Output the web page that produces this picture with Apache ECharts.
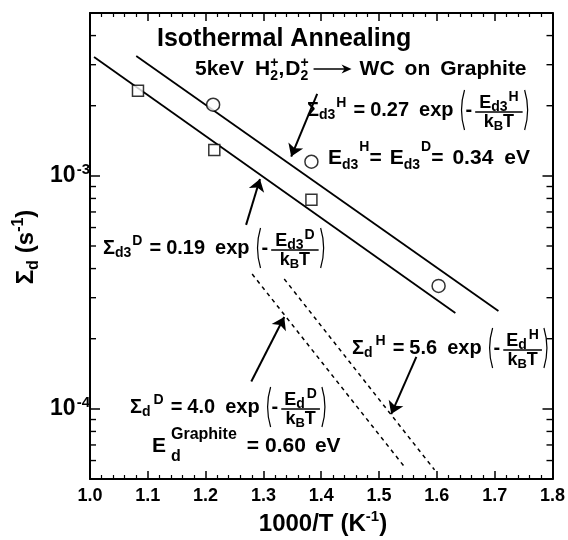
<!DOCTYPE html>
<html><head><meta charset="utf-8">
<script src="https://cdn.jsdelivr.net/npm/echarts@6/dist/echarts.min.js"></script>
<style>html,body{margin:0;padding:0;background:#fff}#c{width:568px;height:540px}</style>
</head><body><div id="c"></div>
<script>
// ---------- data ----------
const xTickLabels = ['1.0','1.1','1.2','1.3','1.4','1.5','1.6','1.7','1.8'];
const xMin = 1.0, xMax = 1.8, xStep = 0.1;
const yMin = 5e-5, yMax = 5e-3;
const yDecadeLabels = {'-4': '-4', '-3': '-3'};
const yMinorTicks = [6e-5,7e-5,8e-5,9e-5,2e-4,3e-4,4e-4,5e-4,6e-4,7e-4,8e-4,9e-4,2e-3,3e-3,4e-3];
const circlesH = [[1.213,2.02e-3],[1.383,1.15e-3],[1.603,3.37e-4]];
const squaresD = [[1.083,2.32e-3],[1.215,1.29e-3],[1.383,7.9e-4]];
const fitH = [[1.080,3.27e-3],[1.7065,2.63e-4]];
const fitD = [[1.007,3.24e-3],[1.632,2.58e-4]];
const dashH = [[1.336,3.61e-4],[1.596,5.47e-5]];
const dashD = [[1.2805,3.79e-4],[1.544,5.64e-5]];
const arrows = [
  [[1.393,2.25e-3],[1.348,1.21e-3]],
  [[1.270,6.16e-4],[1.294,9.7e-4]],
  [[1.279,1.31e-4],[1.336,2.48e-4]],
  [[1.5645,1.67e-4],[1.521,9.5e-5]]
];

// ---------- text layout helpers ----------
const FONT = '"Liberation Sans", Arial, sans-serif';
const mctx = document.createElement('canvas').getContext('2d');
function measure(t, size){ mctx.font = 'bold ' + size + 'px ' + FONT; return mctx.measureText(t).width; }
function txt(t, x, y, size){
  return {type:'text', x:x, y:y, silent:true,
    style:{text:t, fill:'#000', font:'bold ' + size + 'px ' + FONT,
      align:'left', verticalAlign:'middle', textAlign:'left', textVerticalAlign:'middle'}};
}
function layout(tokens, x0, yc, base){
  const els = []; let x = x0;
  for (const tk of tokens){
    if (typeof tk === 'string'){ els.push(txt(tk, x, yc, base)); x += measure(tk, base); }
    else if (tk.gap !== undefined){ x += tk.gap; }
    else if (tk.ss !== undefined){
      const s = tk.size || base; const sm = tk.small || Math.round(s*0.7);
      if (tk.ss){ els.push(txt(tk.ss, x, yc, s)); x += measure(tk.ss, s); }
      x += (tk.pre || 0);
      let w = 0;
      if (tk.sub){ els.push(txt(tk.sub, x, yc + (tk.dy !== undefined ? tk.dy : 5), sm)); w = measure(tk.sub, sm); }
      if (tk.sup){
        const ssz = tk.supSize || sm; const sw = measure(tk.sup, ssz);
        if (tk.stack){ els.push(txt(tk.sup, x, yc - (tk.uy !== undefined ? tk.uy : 7), ssz)); w = Math.max(w, sw); }
        else { const g = tk.sub ? (tk.supGap !== undefined ? tk.supGap : 1) : 0; els.push(txt(tk.sup, x + w + g, yc - (tk.uy !== undefined ? tk.uy : 7), ssz)); w = w + g + sw; }
      }
      x += w;
    }
    else if (tk.paren){
      const h = tk.h || 20; const left = tk.paren === '(';
      const ex = left ? x + 5 : x + 1; const cx = left ? x - 1 : x + 7;
      els.push({type:'bezierCurve', silent:true, shape:{x1:ex, y1:yc-h, x2:ex, y2:yc+h, cpx1:cx, cpy1:yc},
        style:{stroke:'#000', lineWidth:1.2, fill:null}});
      x += 6;
    }
    else if (tk.frac){
      const fs = tk.size || base; const off = tk.off || 2; const pad = tk.pad !== undefined ? tk.pad : 8;
      const a = layout(tk.frac[0], 0, 0, fs), b = layout(tk.frac[1], 0, 0, fs);
      const W = Math.max(a.w, b.w) + pad;
      const ly = yc + off;
      els.push(...layout(tk.frac[0], x + (W - a.w)/2, ly - (tk.nu || 9), fs).els);
      els.push(...layout(tk.frac[1], x + (W - b.w)/2, ly + (tk.de || 10), fs).els);
      els.push({type:'line', silent:true, shape:{x1:x, y1:ly, x2:x+W, y2:ly}, style:{stroke:'#000', lineWidth:1.5}});
      x += W;
    }
    else if (tk.arrow){
      const L = tk.arrow;
      els.push({type:'line', silent:true, shape:{x1:x, y1:yc, x2:x+L-6, y2:yc}, style:{stroke:'#000', lineWidth:1.3}});
      els.push({type:'polygon', silent:true, shape:{points:[[x+L-10,yc-4.5],[x+L,yc],[x+L-10,yc+4.5],[x+L-7,yc]]}, style:{fill:'#000'}});
      x += L;
    }
  }
  return {els:els, w:x - x0};
}

const graphics = [];
function place(tokens, x0, yc, base){ graphics.push(...layout(tokens, x0, yc, base).els); }
function sigma(sub, sup, wide){
  return [{ss:'Σ', sub:sub, sup:sup, dy:5, uy:7, small:14, supGap: wide ? 3 : 1}, {gap:7}, '=', {gap:5}];
}
function expo(num, sub, sup, pad){
  return [num, {gap:10}, 'exp', {gap:6}, {paren:'('}, '-', {gap:3},
    {frac:[[{ss:'E', sub:sub, sup:sup, dy:4, uy:6, small:14, supGap: sub === 'd' ? 2 : 1}],
           [{ss:'k', sub:'B', dy:4, small:13}, 'T']], size:18, pad:pad},
    {gap:1}, {paren:')'}];
}

// title lines
place(['Isothermal Annealing'], 157, 39, 25);
place(['5keV', {gap:11}, {ss:'H', sub:'2', sup:'+', stack:true, dy:7, uy:6, small:14}, ',', {gap:1},
       {ss:'D', sub:'2', sup:'+', stack:true, dy:7, uy:6, small:14}, {gap:5}, {arrow:38}, {gap:8},
       'WC', {gap:10}, 'on', {gap:10}, 'Graphite'], 195, 69, 21);
// formulas
place(sigma('d3','H').concat(expo('0.27','d3','H',8)), 307, 110, 20);
place([{ss:'E', sub:'d3', sup:'H', dy:7, uy:11, small:14}, '=', {gap:8},
       {ss:'E', sub:'d3', sup:'D', dy:7, uy:11, small:14}, '=', {gap:9}, '0.34', {gap:11}, 'eV'], 328, 158, 21);
place(sigma('d3','D').concat(expo('0.19','d3','D',8)), 103, 248, 20);
place(sigma('d','H',true).concat(expo('5.6','d','H',6)), 352, 348, 20);
place(sigma('d','D',true).concat(expo('4.0','d','D',6)), 130, 407, 20);
place([{ss:'E', sub:'d', sup:'Graphite', stack:true, dy:11, uy:11, small:16, pre:5}, {gap:10}, '=', {gap:6}, '0.60', {gap:9}, 'eV'], 152, 446, 21);

// axis names
(function(){
  const tk = ['1000/T', {gap:7}, '(K', {ss:'', sup:'-1', uy:7, small:15}, ')'];
  const w = layout(tk, 0, 0, 24).w;
  place(tk, 323 - w/2, 524, 24);
  const ty = [{ss:'Σ', sub:'d', dy:8, small:16}, {gap:7}, '(s', {ss:'', sup:'-1', uy:7, small:16}, ')'];
  const wy = layout(ty, 0, 0, 24).w;
  graphics.push({type:'group', x:26, y:247, rotation:Math.PI/2, children: layout(ty, -wy/2, 0, 24).els});
})();

// ---------- chart ----------
const chart = echarts.init(document.getElementById('c'), null, {renderer:'canvas'});
const axisLineStyle = {color:'#000', width:2};
function xAxisDef(pos, showLabel){
  return {type:'value', min:xMin, max:xMax, interval:xStep, position:pos,
    axisLine:{show:true, onZero:false, lineStyle:axisLineStyle},
    axisTick:{show:true, inside:true, length:8, lineStyle:{color:'#000', width:1.5}},
    minorTick:{show:true, splitNumber:5, length:4, lineStyle:{color:'#000', width:1.2}},
    splitLine:{show:false},
    axisLabel:{show:showLabel, margin:8, color:'#000', fontSize:18, fontWeight:'bold', fontFamily:FONT,
      formatter: v => xTickLabels[Math.round((v - xMin)/xStep)] || ''}};
}
function yAxisDef(pos, showLabel){
  return {type:'log', logBase:10, min:yMin, max:yMax, position:pos,
    axisLine:{show:true, onZero:false, lineStyle:axisLineStyle},
    axisTick:{show:true, inside:true, length:10, lineStyle:{color:'#000', width:1.5}},
    splitLine:{show:false},
    axisLabel:{show:showLabel, margin:0, color:'#000',
      formatter: v => { const e = Math.log10(v), r = Math.round(e);
        if (Math.abs(e - r) > 1e-6) return ''; const l = yDecadeLabels[String(r)];
        return l ? '{b|10}{s|' + l + '}' : ''; },
      rich:{b:{fontSize:23, fontWeight:'bold', fontFamily:FONT, color:'#000'},
            s:{fontSize:15, fontWeight:'bold', fontFamily:FONT, color:'#000', padding:[0,0,12,1]}}}};
}
const lineBase = {type:'line', symbol:'none', silent:true, xAxisIndex:0, yAxisIndex:0, z:3};
chart.setOption({
  animation:false,
  backgroundColor:'#fff',
  grid:{left:90, right:15, top:13, bottom:61, containLabel:false},
  xAxis:[xAxisDef('bottom', true), xAxisDef('top', false)],
  yAxis:[yAxisDef('left', true), yAxisDef('right', false)],
  series:[
    Object.assign({}, lineBase, {data:fitH, lineStyle:{color:'#000', width:1.8}}),
    Object.assign({}, lineBase, {data:fitD, lineStyle:{color:'#000', width:1.8}}),
    Object.assign({}, lineBase, {data:dashH, lineStyle:{color:'#000', width:1.5, type:[4,4]}}),
    Object.assign({}, lineBase, {data:dashD, lineStyle:{color:'#000', width:1.5, type:[4,4]}}),
    {type:'scatter', data:circlesH, symbol:'circle', symbolSize:13, z:5, silent:true,
     itemStyle:{color:'#fff', borderColor:'#000', borderWidth:1.5}},
    {type:'scatter', data:squaresD, symbol:'rect', symbolSize:11, z:5, silent:true,
     itemStyle:{color:'#fff', borderColor:'#000', borderWidth:1.5}},
    {type:'scatter', data:[], silent:true,
     markLine:{silent:true, animation:false, symbol:['none','arrow'], symbolSize:12, label:{show:false},
       lineStyle:{color:'#000', width:2, type:'solid'},
       emphasis:{disabled:true},
       data: arrows.map(a => [{coord:a[0]}, {coord:a[1]}])}},
    {type:'custom', silent:true, clip:false, z:4,
     data: yMinorTicks.map(v => [xMin, v]),
     renderItem: (params, api) => {
       const v = api.value(1);
       const pl = api.coord([xMin, v]), pr = api.coord([xMax, v]);
       return {type:'group', children:[
         {type:'line', shape:{x1:pl[0], y1:pl[1], x2:pl[0]+6, y2:pl[1]}, style:{stroke:'#000', lineWidth:1.4}},
         {type:'line', shape:{x1:pr[0], y1:pr[1], x2:pr[0]-6, y2:pr[1]}, style:{stroke:'#000', lineWidth:1.4}}
       ]};
     }}
  ],
  graphic: graphics
});
</script>
</body></html>
